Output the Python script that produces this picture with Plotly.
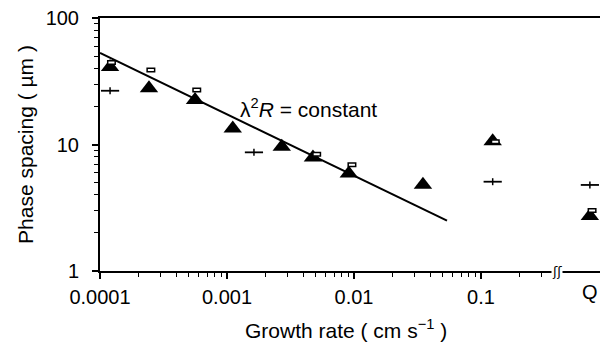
import plotly.graph_objects as go
import math

# ---- data ----
Q_POS = 0.72  # position of the "Q" (quenched) column on the growth-rate axis

tri_x = [1.2e-4, 2.43e-4, 5.6e-4, 1.11e-3, 2.7e-3, 4.75e-3, 9.1e-3, 0.0349, 0.1236, Q_POS]
tri_y = [41, 27.8, 22.5, 13.4, 9.6, 7.9, 5.9, 4.8, 10.6, 2.72]

rect_x = [1.15e-4, 2.35e-4, 5.4e-4, 4.75e-3, 9.0e-3, 0.121, 0.70]
rect_y = [43, 37.6, 26.1, 8.1, 6.7, 10.2, 2.92]

plus_x = [1.2e-4, 1.63e-3, 0.1236, Q_POS]
plus_y = [26.6, 8.67, 5.08, 4.79]

fit_x = [1e-4, 0.054]
fit_y = [53, 2.5]

x_major = [1e-4, 1e-3, 1e-2, 1e-1]
x_major_text = ["0.0001", "0.001", "0.01", "0.1"]
x_minor = [m * 10 ** e for e in range(-4, -1) for m in range(2, 10)] + [0.2, 0.3, 0.4]
y_major = [1, 10, 100]
y_minor = [m * 10 ** e for e in range(0, 2) for m in range(2, 10)]
BREAK_POS = 0.40
LABEL_POS = (1.22e-3, 19.4)

FONT = "Liberation Sans, Arial, sans-serif"

fig = go.Figure()

fig.add_trace(go.Scatter(x=fit_x, y=fit_y, mode="lines",
                         line=dict(color="black", width=2), showlegend=False))

fig.add_trace(go.Scatter(x=plus_x, y=plus_y, mode="markers",
                         marker=dict(symbol="line-ew", size=13,
                                     line=dict(color="black", width=1.8)),
                         showlegend=False))
fig.add_trace(go.Scatter(x=plus_x, y=plus_y, mode="markers",
                         marker=dict(symbol="line-ns", size=5,
                                     line=dict(color="black", width=1.5)),
                         showlegend=False))

fig.add_trace(go.Scatter(x=tri_x, y=tri_y, mode="markers",
                         marker=dict(symbol="triangle-up", size=16, color="black",
                                     line=dict(width=0)),
                         showlegend=False))

# open rectangles, fixed pixel size, anchored at the data points
shapes = []
for xv, yv in zip(rect_x, rect_y):
    shapes.append(dict(type="rect", xref="x", yref="y",
                       xsizemode="pixel", ysizemode="pixel",
                       xanchor=xv, yanchor=yv,
                       x0=-7.5, x1=7.5, y0=-3.5, y1=3.5,
                       line=dict(color="black", width=1.5),
                       fillcolor="white", layer="above"))

fig.update_layout(
    width=600, height=335,
    margin=dict(l=92, r=0, t=10, b=72),
    paper_bgcolor="white", plot_bgcolor="white",
    font=dict(family=FONT, size=20, color="black"),
    shapes=shapes,
    annotations=[
        dict(x=math.log10(LABEL_POS[0]), y=math.log10(LABEL_POS[1]), xref="x", yref="y",
             text="λ<sup>2</sup><i>R</i> = constant", showarrow=False,
             xanchor="left", yanchor="middle", font=dict(size=21)),
        dict(x=math.log10(Q_POS), y=0, xref="x", yref="paper",
             text="Q", showarrow=False, yanchor="top", yshift=-8,
             font=dict(size=20)),
        dict(x=math.log10(BREAK_POS), y=0, xref="x", yref="paper",
             text="ʃʃ", showarrow=False, yanchor="middle",
             font=dict(family="DejaVu Sans", size=13, color="black"),
             bgcolor="white", borderpad=0),
        dict(x=0.4835, y=0, xref="paper", yref="paper", yshift=-58,
             text="Growth rate ( cm s<sup>−1</sup> )", showarrow=False,
             xanchor="center", yanchor="middle", font=dict(size=21)),
    ],
    xaxis=dict(
        type="log", range=[-4, 0],
        tickvals=x_major, ticktext=x_major_text,
        ticks="outside", ticklen=6, tickwidth=1.5, tickcolor="black",
        showline=True, linewidth=2, linecolor="black", mirror=True,
        showgrid=False, zeroline=False,
        ticklabelstandoff=1,
        minor=dict(tickvals=x_minor, ticks="outside", ticklen=4,
                   tickwidth=1, tickcolor="black", showgrid=False),
    ),
    yaxis=dict(
        type="log", range=[0, 2],
        tickvals=y_major, ticktext=["1", "10", "100"],
        ticks="outside", ticklen=6, tickwidth=1.5, tickcolor="black",
        showline=True, linewidth=2, linecolor="black",
        showgrid=False, zeroline=False,
        ticklabelstandoff=9, ticklabeloverflow="allow",
        minor=dict(tickvals=y_minor, ticks="outside", ticklen=4,
                   tickwidth=1, tickcolor="black", showgrid=False),
        title=dict(text="Phase spacing ( µm )", standoff=6,
                   font=dict(size=21)),
    ),
)

fig.write_html("out.html")
